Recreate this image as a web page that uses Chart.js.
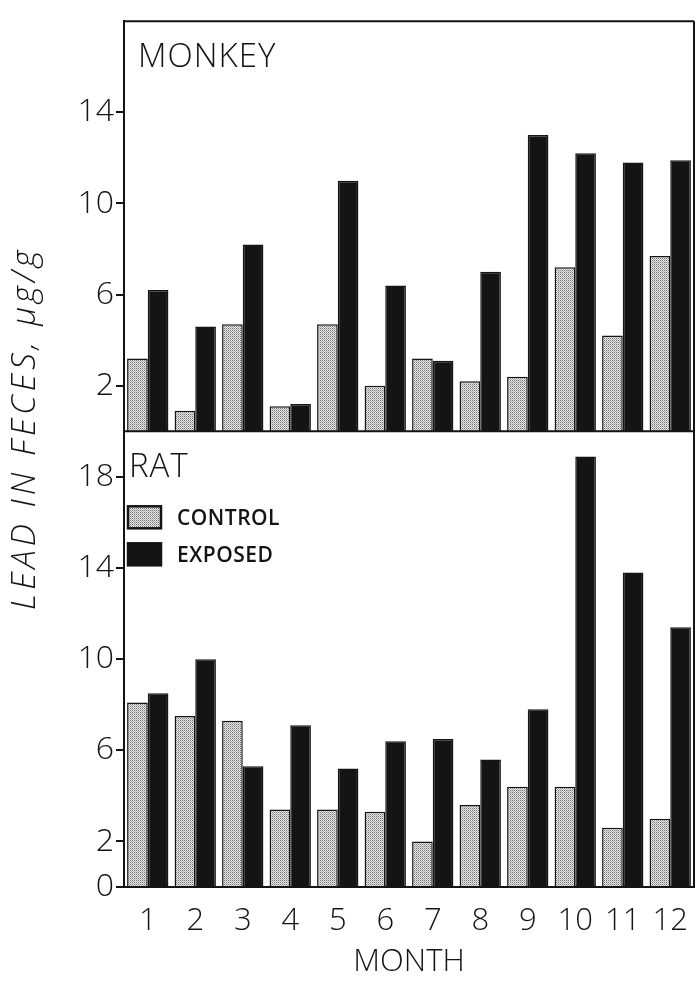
<!DOCTYPE html>
<html lang="en">
<head>
  <meta charset="UTF-8" />
  <title>Lead in feces</title>
  <script src="https://cdn.jsdelivr.net/npm/chart.js"></script>
  <style>
    body { margin: 0; background: #ffffff; }
    .wrap { width: 699px; height: 981px; position: relative; }
  </style>
</head>
<body>
  <div class="wrap"><canvas id="chart" width="699" height="981"></canvas></div>

  <script>
    const months = ["1", "2", "3", "4", "5", "6", "7", "8", "9", "10", "11", "12"];
    const monkeyControl = [3.2, 0.9, 4.7, 1.1, 4.7, 2.0, 3.2, 2.2, 2.4, 7.2, 4.2, 7.7];
    const monkeyExposed = [6.2, 4.6, 8.2, 1.2, 11.0, 6.4, 3.1, 7.0, 13.0, 12.2, 11.8, 11.9];
    const ratControl = [8.1, 7.5, 7.3, 3.4, 3.4, 3.3, 2.0, 3.6, 4.4, 4.4, 2.6, 3.0];
    const ratExposed = [8.5, 10.0, 5.3, 7.1, 5.2, 6.4, 6.5, 5.6, 7.8, 18.9, 13.8, 11.4];
    const monkeyTicks = [2, 6, 10, 14];
    const ratTicks = [0, 2, 6, 10, 14, 18];

    const INK = "#141414";
    const FONT = "'Open Sans', 'DejaVu Sans', sans-serif";

    // stipple fill for the control bars
    function makeStipple() {
      const c = document.createElement("canvas");
      c.width = 2; c.height = 2;
      const g = c.getContext("2d");
      g.fillStyle = "#e6e6e6";
      g.fillRect(0, 0, 2, 2);
      g.fillStyle = "#737373";
      g.fillRect(0, 0, 1, 1);
      g.fillStyle = "#b0b0b0";
      g.fillRect(1, 1, 1, 1);
      return g.createPattern(c, "repeat");
    }
    const stipple = makeStipple();

    function fixedTicks(list) {
      return scale => { scale.ticks = list.map(v => ({ value: v })); };
    }

    const framePlugin = {
      id: "frame",
      afterDraw(chart) {
        const { ctx, chartArea: a } = chart;
        const yR = chart.scales.yRat;
        ctx.save();
        ctx.strokeStyle = INK;
        ctx.lineWidth = 2;
        ctx.beginPath();
        ctx.moveTo(a.left, a.top); ctx.lineTo(a.right, a.top);
        ctx.moveTo(a.right, a.top); ctx.lineTo(a.right, a.bottom);
        ctx.moveTo(a.left, yR.top); ctx.lineTo(a.right, yR.top);
        ctx.stroke();

        // panel names
        ctx.fillStyle = INK;
        ctx.textBaseline = "alphabetic";
        ctx.font = "300 33px " + FONT;
        ctx.letterSpacing = "1px";
        ctx.fillText("MONKEY", a.left + 14, a.top + 46);
        ctx.fillText("RAT", a.left + 5, yR.top + 46);

        // legend
        const rows = [["CONTROL", stipple], ["EXPOSED", INK]];
        ctx.font = "600 21px " + FONT;
        ctx.letterSpacing = "0.5px";
        rows.forEach((r, i) => {
          const y = yR.top + 75 + i * 37;
          ctx.fillStyle = r[1];
          ctx.fillRect(a.left + 4, y, 33, 22);
          ctx.lineWidth = 2.5;
          ctx.strokeStyle = INK;
          ctx.strokeRect(a.left + 4, y, 33, 22);
          ctx.fillStyle = INK;
          ctx.fillText(r[0], a.left + 53, y + 19);
        });

        // shared y title
        ctx.translate(26, a.top + (a.bottom - a.top) * 0.47);
        ctx.rotate(-Math.PI / 2);
        ctx.textAlign = "center";
        ctx.textBaseline = "middle";
        ctx.font = "italic 300 33px " + FONT;
        ctx.letterSpacing = "4px";
        ctx.fillText("LEAD IN FECES, \u03bcg/g", 0, 0);
        ctx.restore();
      }
    };

    const yCommon = {
      type: "linear",
      position: "left",
      stack: "panels",
      stacked: false,
      min: 0,
      border: { display: true, color: INK, width: 2 },
      grid: { drawOnChartArea: false, drawTicks: true, tickLength: 8, color: INK, lineWidth: 2 },
      ticks: { color: INK, font: { family: FONT, size: 32, weight: 300 }, padding: 2 },
      afterFit: s => { s.width = 124; }
    };

    new Chart(document.getElementById("chart"), {
      type: "bar",
      data: {
        labels: months,
        datasets: [
          { label: "CONTROL", data: monkeyControl, yAxisID: "yMonkey", stack: "control", backgroundColor: stipple },
          { label: "EXPOSED", data: monkeyExposed, yAxisID: "yMonkey", stack: "exposed", backgroundColor: INK },
          { label: "CONTROL", data: ratControl, yAxisID: "yRat", stack: "control", backgroundColor: stipple },
          { label: "EXPOSED", data: ratExposed, yAxisID: "yRat", stack: "exposed", backgroundColor: INK }
        ]
      },
      options: {
        responsive: false,
        animation: false,
        layout: { padding: { top: 20, right: 5, left: 0, bottom: 0 } },
        datasets: {
          bar: { categoryPercentage: 0.87, barPercentage: 1.0, borderColor: INK, borderWidth: 1.5, borderSkipped: "bottom" }
        },
        plugins: { legend: { display: false }, tooltip: { enabled: false } },
        scales: {
          x: {
            type: "category",
            grid: { display: false },
            border: { display: true, color: INK, width: 2 },
            ticks: { color: INK, font: { family: FONT, size: 31, weight: 300 }, padding: 8, maxRotation: 0, autoSkip: false },
            title: { display: true, text: "MONTH", color: INK, font: { family: FONT, size: 31, weight: 300 }, padding: { top: 0, bottom: 0 } },
            afterFit: s => { s.height = 94; }
          },
          yRat: Object.assign({}, yCommon, { max: 20, stackWeight: 20, afterBuildTicks: fixedTicks(ratTicks) }),
          yMonkey: Object.assign({}, yCommon, { max: 18, stackWeight: 18, afterBuildTicks: fixedTicks(monkeyTicks) })
        }
      },
      plugins: [framePlugin]
    });
  </script>
</body>
</html>
